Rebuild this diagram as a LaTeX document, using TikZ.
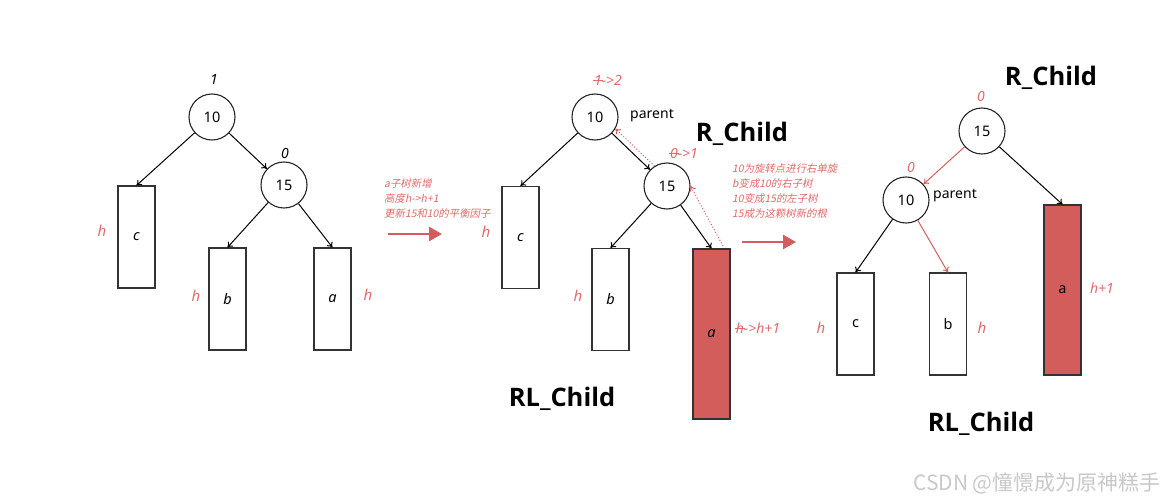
\documentclass[tikz,border=0pt]{standalone}
\usepackage{fontspec}
\setmainfont{Noto Sans}
\newfontfamily\cjk{Noto Sans CJK SC}
\newfontfamily\cjkit[FakeSlant=0.2]{Noto Sans CJK SC}
\newfontfamily\titlef{Open Sans}
\newcommand\strk[1]{\ooalign{#1\cr\hidewidth\rule[0.3em]{0.7em}{0.06em}\hidewidth\cr}}
\usetikzlibrary{arrows.meta,calc}
\definecolor{myred}{HTML}{D35D5A}
\definecolor{txtred}{HTML}{E06A68}
\definecolor{wm}{HTML}{C8C8C8}
\begin{document}
\begin{tikzpicture}[x=1pt,y=-1pt,
  circ/.style={circle,draw=black!85,line width=1.1pt,minimum size=46pt,inner sep=0pt,font=\fontsize{14.5}{16}\selectfont},
  tree/.style={rectangle,draw=black!80,line width=1.1pt,minimum width=37pt,minimum height=102pt,inner sep=0pt,font=\fontsize{14.5}{16}\selectfont},
  tall/.style={tree,minimum height=170pt,fill=myred},
  edge/.style={line width=1pt,-{To[length=5pt,width=7pt]}},
  redge/.style={edge,draw=myred},
  dotarr/.style={draw=myred,dotted,line width=1pt,-{To[length=5pt,width=7pt]}},
  bigarr/.style={draw=myred,line width=2.5pt,-{Triangle[length=13pt,width=14pt]}},
  hlab/.style={text=txtred,font=\fontsize{15}{17}\selectfont\itshape},
  bf/.style={text=txtred,font=\fontsize{14}{16}\selectfont\itshape},
  note/.style={text=txtred,font=\fontsize{10.4}{15}\selectfont\cjkit,align=left,anchor=north west,inner sep=0pt},
  title/.style={font=\fontsize{25.5}{28}\selectfont\titlef\bfseries},
  plab/.style={font=\fontsize{14}{16}\selectfont}
]
\useasboundingbox (0,0) rectangle (1176,503);

% ---------- Panel 1 ----------
\node[circ] (a10) at (212,117) {10};
\node[circ] (a15) at (284,185) {15};
\node[tree] (ac) at (136.5,237) {\itshape c};
\node[tree] (ab) at (227.5,299) {\itshape b};
\node[tree] (aa) at (332.5,299) {\itshape a};
\node[font=\fontsize{14}{16}\selectfont\itshape] (a10bf) at (214,80) {1};
\node[font=\fontsize{14}{16}\selectfont\itshape] (a15bf) at (285,153) {0};
\node[hlab] (ahc) at (102,231) {h};
\node[hlab] (ahb) at (196,296) {h};
\node[hlab] (aha) at (368,295) {h};
\draw[edge] (a10) -- (ac.north);
\draw[edge] (a10) -- (a15);
\draw[edge] (a15) -- (ab.north);
\draw[edge] (a15) -- (aa.north);

% note 1 and arrow
\node[note] (n1) at (384,179) {a子树新增\\高度h->h+1\\更新15和10的平衡因子};
\coordinate (m1s) at (388,234);
\coordinate (m1e) at (442,234);
\draw[bigarr] (m1s) -- (m1e);

% ---------- Panel 2 ----------
\node[circ] (b10) at (595,117) {10};
\node[circ] (b15) at (667,186) {15};
\node[tree] (bc) at (520.5,237.5) {\itshape c};
\node[tree] (bb) at (610.5,299.5) {\itshape b};
\node[tall] (ba) at (711.5,334) {\itshape a};
\node[bf] (b10bf) at (608,80) {\strk{1}->2};
\node[bf] (b15bf) at (684,153) {\strk{0}->1};
\node[plab] (bpar) at (652,116) {parent};
\node[title] (brc) at (742,134) {R\_Child};
\node[title] (brl) at (562,399) {RL\_Child};
\node[hlab] (bhc) at (486,232) {h};
\node[hlab] (bhb) at (578,296) {h};
\node[bf] (bha) at (758,328) {\strk{h}->h+1};
\draw[edge] (b10) -- (bc.north);
\draw[edge] (b10) -- (b15);
\draw[edge] (b15) -- (bb.north);
\draw[edge] (b15) -- (ba.north);
\coordinate (d1) at (723,246);
\draw[dotarr] (d1) -- (b15.east);
\draw[dotarr] (b15.122) -- (b10.-30);

% note 2 and arrow
\node[note] (n2) at (732,164) {10为旋转点进行右单旋\\b变成10的右子树\\10变成15的左子树\\15成为这颗树新的根};
\coordinate (m2s) at (742,242);
\coordinate (m2e) at (796,242);
\draw[bigarr] (m2s) -- (m2e);

% ---------- Panel 3 ----------
\node[circ] (c15) at (982,131) {15};
\node[circ] (c10) at (906,200) {10};
\node[tree] (cc) at (855.5,324) {c};
\node[tree] (cb) at (948,324) {b};
\node[tall] (ca) at (1062.5,290) {a};
\node[bf] (c15bf) at (981,96) {0};
\node[bf] (c10bf) at (911,167) {0};
\node[plab] (cpar) at (955,196) {parent};
\node[title] (crc) at (1051,78) {R\_Child};
\node[title] (crl) at (981,424) {RL\_Child};
\node[hlab] (chc) at (821,328) {h};
\node[hlab] (chb) at (982,328) {h};
\node[bf] (cha) at (1102,288) {h+1};
\draw[redge] (c15) -- (c10);
\draw[edge] (c15) -- (ca.north);
\draw[edge] (c10) -- (cc.north);
\draw[redge] (c10) -- (cb.north);

% watermark
\node[text=wm,font=\fontsize{21}{24}\selectfont\cjk] (wmk) at (1037,483) {CSDN @憧憬成为原神糕手};
\end{tikzpicture}
\end{document}
